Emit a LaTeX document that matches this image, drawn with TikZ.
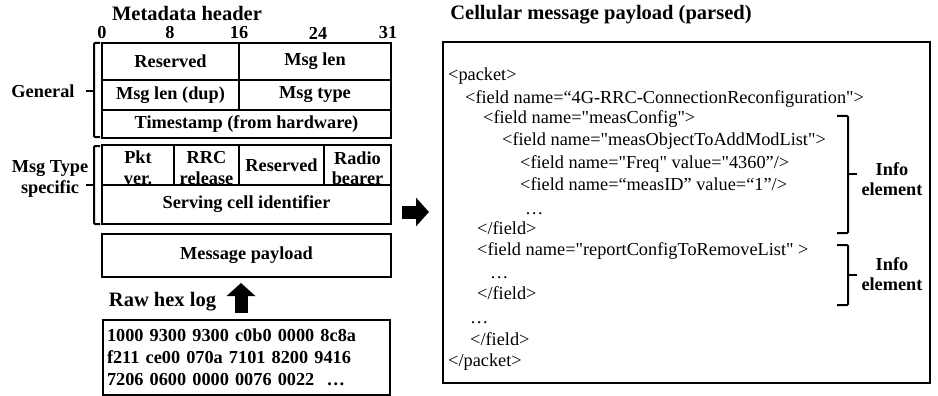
\documentclass[tikz,border=0pt]{standalone}
\usepackage{fontspec}
\setmainfont{Liberation Serif}
\newfontfamily\plainserif[Ligatures=TeXOff]{Liberation Serif}
\usetikzlibrary{arrows.meta}

\newcommand{\titlefont}{\bfseries\fontsize{20.5}{24}\selectfont}
\newcommand{\cellfont}{\bfseries\fontsize{18.3}{20.5}\selectfont}
\newcommand{\hexfont}{\bfseries\fontsize{18.3}{22}\selectfont}
\newcommand{\codefont}{\plainserif\fontsize{18.3}{21}\selectfont}

\begin{document}
\begin{tikzpicture}[
  x=1pt, y=-1pt,
  cell/.style={draw, line width=1.2pt, inner sep=0pt, align=center, font=\cellfont},
  lbl/.style={inner sep=0pt, align=center, font=\cellfont},
  code/.style={anchor=base west, inner sep=0pt, font=\codefont},
  brk/.style={line width=2pt, rounded corners=1pt},
  blockarrow/.style={line width=13pt, -{Triangle[width=28pt, length=13pt]}}
]
\useasboundingbox (0,0) rectangle (938,396);

% Titles
\node[lbl, font=\titlefont] (metatitle) at (187,13) {Metadata header};
\node[lbl, font=\titlefont] (parsedtitle) at (601,15) {Cellular message payload (parsed)};

% Bit offsets
\node[lbl] (bit0) at (102,33) {0};
\node[lbl] (bit8) at (170,33) {8};
\node[lbl] (bit16) at (239,33) {16};
\node[lbl] (bit24) at (318,33) {24};
\node[lbl] (bit31) at (388,33) {31};

% General header fields
\node[cell, minimum width=137, minimum height=37] (res1) at (170.5,61.5) {Reserved};
\node[cell, minimum width=152, minimum height=37] (msglen) at (315,61.5) {Msg len};
\node[cell, minimum width=137, minimum height=30] (msgdup) at (170.5,95) {Msg len (dup)};
\node[cell, minimum width=152, minimum height=30] (msgtype) at (315,95) {Msg type};
\node[cell, minimum width=289, minimum height=28] (tstamp) at (246.5,124) {Timestamp (from hardware)};

% Msg type specific fields
\node[cell, minimum width=72, minimum height=40, label={[lbl, yshift=-3pt]center:Pkt\\ver.}] (pkt) at (138,165) {};
\node[cell, minimum width=65, minimum height=40, label={[lbl, yshift=-3pt]center:RRC\\release}] (rrc) at (206.5,165) {};
\node[cell, minimum width=85, minimum height=40] (res2) at (281.5,165) {Reserved};
\node[cell, minimum width=67, minimum height=40, label={[lbl, yshift=-3pt]center:Radio\\bearer}] (radio) at (357.5,165) {};
\node[cell, minimum width=289, minimum height=39] (servcell) at (246.5,204.5) {Serving cell identifier};

% Payload and raw log
\node[cell, minimum width=289, minimum height=43] (payload) at (246.5,255.5) {Message payload};
\node[lbl, font=\titlefont] (rawlbl) at (162.5,302) {Raw hex log};
\node[cell, minimum width=287, minimum height=75, text width=279, align=left, font=\hexfont] (hex) at (246.5,357.5)
  {1000 9300 9300 c0b0 0000 8c8a\\f211 ce00 070a 7101 8200 9416\\7206 0600 0000 0076 0022\ \ …};

% Brackets on the left
\node[lbl] (general) at (43,91) {General};
\node[lbl] (typespec) at (50,179) {Msg Type\\specific};
\draw[brk] (100,43) -- (94,43) -- (94,137) -- (100,137);
\draw[brk] (94,91) -- (86,91);
\draw[brk] (100,146) -- (94,146) -- (94,224) -- (100,224);
\draw[brk] (94,185) -- (86,185);

% Arrows
\coordinate (upfrom) at (241,313);
\coordinate (upto) at (241,283);
\draw[blockarrow] (upfrom) -- (upto);
\coordinate (rightfrom) at (402,212);
\coordinate (rightto) at (429,212);
\draw[blockarrow] (rightfrom) -- (rightto);

% Parsed payload
\node[draw, line width=1.2pt, minimum width=487, minimum height=341, inner sep=0pt] (parsed) at (686.5,212.5) {};
\node[code] (l1) at (448,81) {<packet>};
\node[code] (l2) at (465,103) {<field name=“4G-RRC-ConnectionReconfiguration">};
\node[code] (l3) at (483,124) {<field name="measConfig">};
\node[code] (l4) at (502,146) {<field name="measObjectToAddModList">};
\node[code] (l5) at (520,168) {<field name="Freq" value="4360”/>};
\node[code] (l6) at (520,190) {<field name=“measID” value=“1”/>};
\node[code] (l7) at (525,214) {…};
\node[code] (l8) at (477,234) {</field>};
\node[code] (l9) at (477,255) {<field name="reportConfigToRemoveList" >};
\node[code] (l10) at (490,278) {…};
\node[code] (l11) at (477,299) {</field>};
\node[code] (l12) at (470,323) {…};
\node[code] (l13) at (470,345) {</field>};
\node[code] (l14) at (448,366) {</packet>};

% Brackets on the right
\draw[brk] (837,116) -- (848,116) -- (848,233) -- (837,233);
\draw[brk] (848,174) -- (857,174);
\node[lbl] (info1) at (892,179) {Info\\element};
\draw[brk] (837,245) -- (848,245) -- (848,305) -- (837,305);
\draw[brk] (848,275) -- (857,275);
\node[lbl] (info2) at (892,274) {Info\\element};

\end{tikzpicture}
\end{document}
